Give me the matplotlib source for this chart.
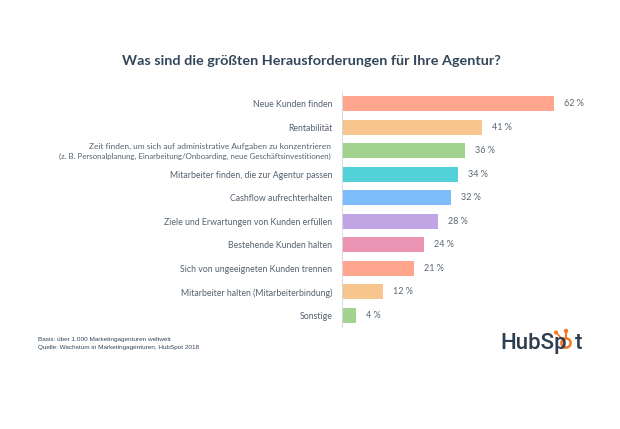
import matplotlib
matplotlib.use('Agg')
import matplotlib.pyplot as plt
from matplotlib.patches import Circle
from matplotlib.lines import Line2D

labels = ['Neue Kunden finden',
          'Rentabilität',
          '',
          'Mitarbeiter finden, die zur Agentur passen',
          'Cashflow aufrechterhalten',
          'Ziele und Erwartungen von Kunden erfüllen',
          'Bestehende Kunden halten',
          'Sich von ungeeigneten Kunden trennen',
          'Mitarbeiter halten (Mitarbeiterbindung)',
          'Sonstige']
long_label = ['Zeit finden, um sich auf administrative Aufgaben zu konzentrieren',
              '(z. B. Personalplanung, Einarbeitung/Onboarding, neue Geschäftsinvestitionen)']
values = [62, 41, 36, 34, 32, 28, 24, 21, 12, 4]
colors = ['#ffa58e', '#f6c68e', '#a1d28e', '#52d2d8', '#7dbcfb',
          '#bfa5e3', '#eb94b4', '#ffa58e', '#f6c68e', '#a1d28e']

W, H = 620, 429
plt.rcParams['font.family'] = ['Lato', 'DejaVu Sans']
label_color = '#55626f'

fig = plt.figure(figsize=(W / 100, H / 100), dpi=100, facecolor='white')
ax = fig.add_axes([342 / W, 1 - 327 / H, 258 / W, 235 / H])

ypos = list(range(len(values)))
ax.barh(ypos, values, height=0.64, color=colors)
ax.set_xlim(0, 75.4)
ax.set_ylim(9.5, -0.5)
ax.set_yticks(ypos)
ax.set_yticklabels(labels, fontsize=6.3, color=label_color, ha='right')
ax.tick_params(axis='y', length=0, pad=7)
ax.set_xticks([])
for side in ['top', 'right', 'bottom']:
    ax.spines[side].set_visible(False)
ax.spines['left'].set_color('#d5dade')
ax.spines['left'].set_linewidth(0.7)

for y, v in zip(ypos, values):
    ax.text(v + 2.9, y, '%d %%' % v, fontsize=6.5, color='#5a6672', va='center')

# the two lines of this label have different widths in the original
fig.text(331 / W, 1 - 146.5 / H, long_label[0], fontsize=6.0, color=label_color, ha='right', va='center')
fig.text(331 / W, 1 - 156.5 / H, long_label[1], fontsize=5.65, color=label_color, ha='right', va='center')

fig.text(311 / W, 1 - 61 / H, 'Was sind die größten Herausforderungen für Ihre Agentur?',
         fontsize=10.4, fontweight='bold', color='#33475b', ha='center', va='center')

fig.text(38 / W, 1 - 340 / H, 'Basis: über 1.000 Marketingagenturen weltweit',
         fontsize=4.6, color='#33475b', va='center', family=['Liberation Sans'])
fig.text(38 / W, 1 - 348 / H, 'Quelle: Wachstum in Marketingagenturen, HubSpot 2018',
         fontsize=4.6, color='#33475b', va='center', family=['Liberation Sans'])

# logo
fig.text(500 / W, 1 - 349 / H, 'HubSp', fontsize=16, fontweight='medium', color='#2d3e50',
         va='baseline', family=['Roboto'])
fig.text(575 / W, 1 - 349 / H, 't', fontsize=16, fontweight='medium', color='#2d3e50',
         va='baseline', family=['Roboto'])
orange = '#f8761f'
logo = fig.add_axes([0, 0, 1, 1], facecolor='none')
logo.set_xlim(0, W)
logo.set_ylim(H, 0)
logo.axis('off')
logo.add_patch(Circle((566, 343), 4.6, facecolor='none', edgecolor=orange, linewidth=1.8))
logo.add_line(Line2D([566, 566], [338, 332], color=orange, linewidth=1.5))
logo.add_line(Line2D([562.5, 556.5], [339.5, 333], color=orange, linewidth=1.2))
logo.add_patch(Circle((566, 331), 1.5, color=orange))
logo.add_patch(Circle((556, 332.5), 1.3, color=orange))

fig.savefig('out.png', dpi=100)
